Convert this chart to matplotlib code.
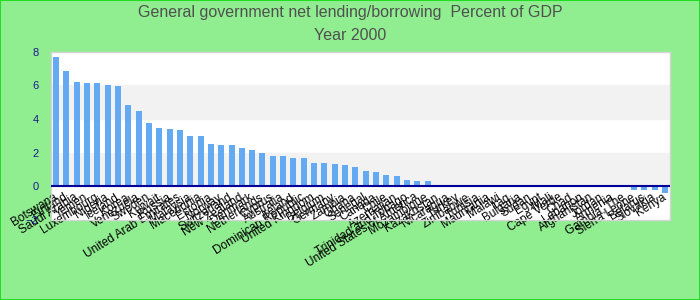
import numpy as np
import matplotlib.pyplot as plt
from matplotlib.patches import Rectangle

countries = [
    "Botswana", "Finland", "Saudi Arabia", "Yemen", "Luxembourg", "Nigeria",
    "Iceland", "Korea", "Venezuela", "Sweden", "Kuwait", "Russia",
    "United Arab Emirates", "Malaysia", "Macedonia", "Estonia", "Norway",
    "Switzerland", "New Zealand", "Denmark", "Netherlands", "Cyprus",
    "Australia", "Ireland", "Dominican Republic", "United Kingdom", "Belgium",
    "Germany", "Zambia", "Ghana", "Senegal", "Canada", "Chile", "Azerbaijan",
    "Trinidad and Tobago", "United States of America", "Mozambique",
    "Kazakhstan", "Nicaragua", "Turkey", "Zimbabwe", "Tunisia", "Mauritania",
    "Malawi", "Iraq", "Bulgaria", "Sudan", "Egypt", "Mali", "Cape Verde",
    "Chad", "Lebanon", "Afghanistan", "Jordan", "Armenia", "Gambia, The",
    "Sierra Leone", "Belarus", "Slovakia", "Kenya",
]
values = [
    7.67, 6.82, 6.17, 6.11, 6.11, 5.99,
    5.93, 4.80, 4.45, 3.74, 3.44, 3.38,
    3.32, 2.96, 2.96, 2.49, 2.43,
    2.43, 2.25, 2.13, 1.96, 1.80,
    1.80, 1.68, 1.68, 1.38, 1.38,
    1.32, 1.26, 1.15, 0.91, 0.85, 0.67, 0.61,
    0.38, 0.32, 0.32,
    0, 0, 0, 0, 0, 0,
    0, 0, 0, 0, 0, 0, 0,
    0, 0, 0, 0, 0, -0.06,
    -0.24, -0.24, -0.24, -0.41,
]
yticks = [-2, 0, 2, 4, 6, 8]

plt.rcParams['font.family'] = ['Liberation Sans', 'DejaVu Sans']

fig = plt.figure(figsize=(7, 3), dpi=100, facecolor="#90ee90")
fig.patches.append(Rectangle((0, 0), 1, 1, transform=fig.transFigure,
                             fill=False, edgecolor="#22dd22", linewidth=1.5))

ax = fig.add_axes([51 / 700, 80 / 300, 619 / 700, 168.5 / 300])
ax.set_facecolor("white")

x = np.arange(len(countries))
ax.axhspan(0, 2, color="#f2f2f2", zorder=0)
ax.axhspan(4, 6, color="#f2f2f2", zorder=0)
ax.bar(x, values, width=0.58, color="#63aaf2", zorder=2)
ax.axhline(0, color="#000099", linewidth=1.5, zorder=3)

ax.set_xlim(-0.5, len(countries) - 0.5)
ax.set_ylim(-2, 8)
ax.set_yticks(yticks)
ax.tick_params(axis="y", length=0, pad=9, labelsize=8, labelcolor="#1a1a8c")

ax.set_xticks(x, labels=countries, rotation=32, ha="right", va="center",
              rotation_mode="anchor", fontsize=8.5)
ax.tick_params(axis="x", length=0, pad=-17)

for s in ax.spines.values():
    s.set_color("#d4d4d4")
    s.set_linewidth(1)

fig.text(0.5, 1 - 12 / 300, "General government net lending/borrowing  Percent of GDP",
         ha="center", va="center", fontsize=11.5, color="#505050")
fig.text(0.5, 1 - 36 / 300, "Year 2000",
         ha="center", va="center", fontsize=11.5, color="#505050")

fig.savefig("out.png", dpi=100, facecolor=fig.get_facecolor())
